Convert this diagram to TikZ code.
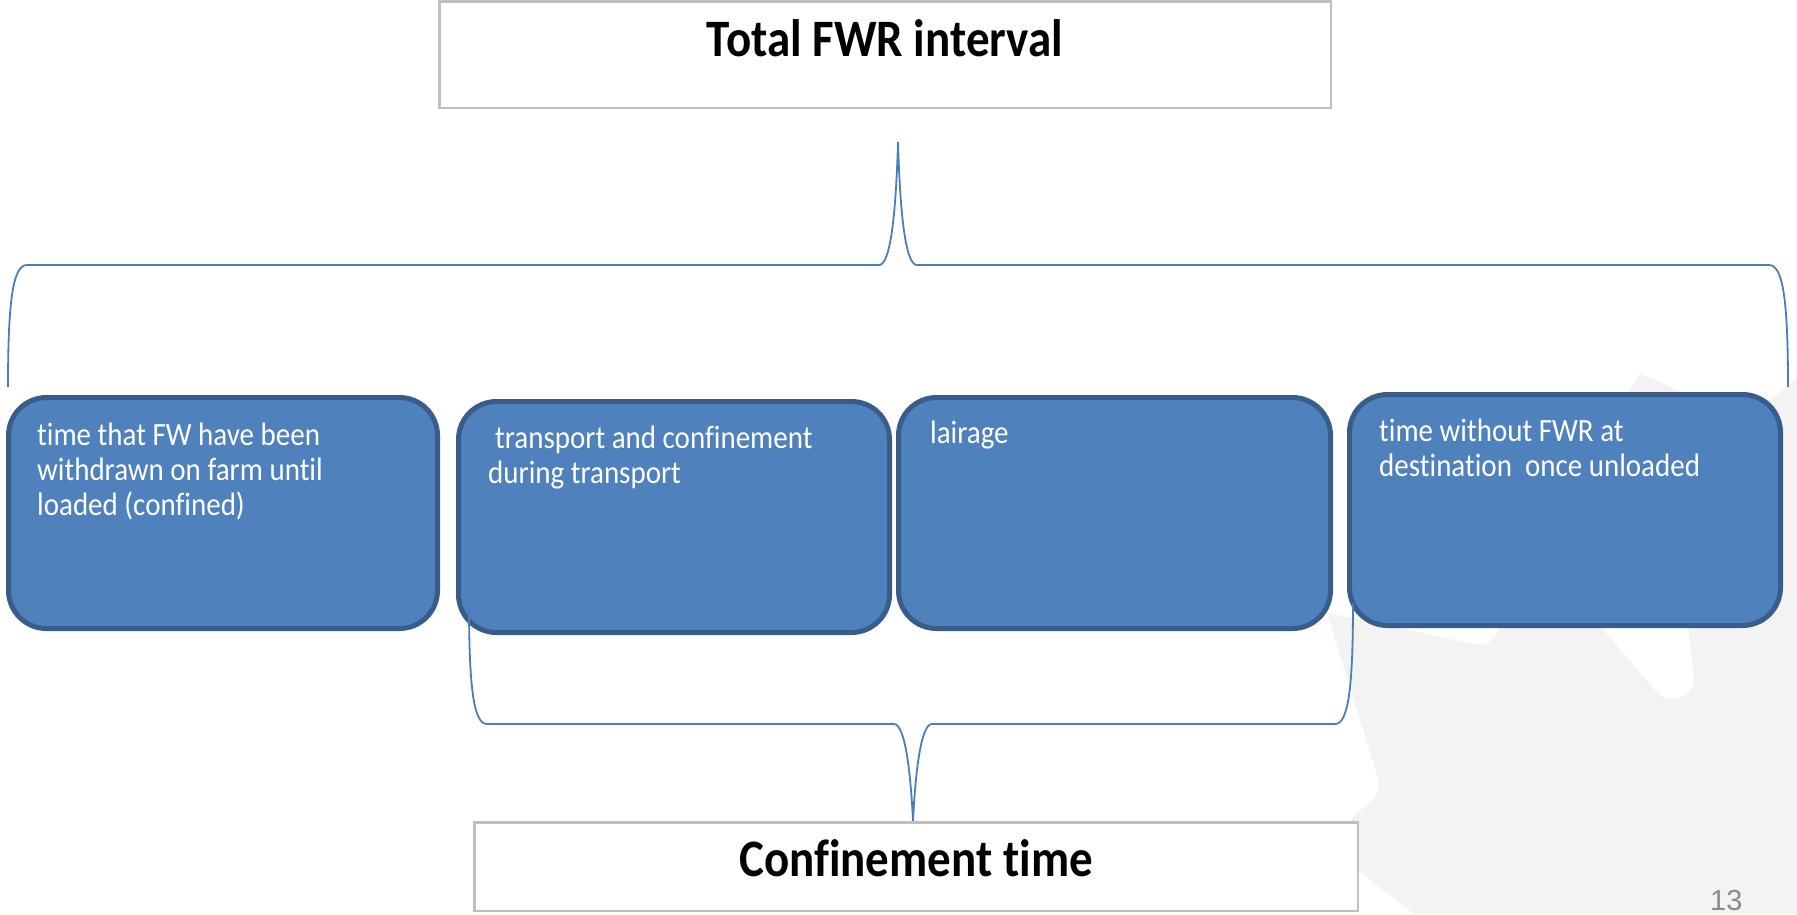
\documentclass[tikz,border=0pt]{standalone}
\usepackage{fontspec}
\setmainfont{Carlito}[Ligatures=NoCommon]
\newfontfamily\numfont{Liberation Sans}
\definecolor{boxfill}{HTML}{4F81BD}
\definecolor{boxline}{HTML}{385D8A}
\definecolor{braceline}{HTML}{4A7EBB}
\definecolor{titleline}{HTML}{BFBFBF}
\definecolor{wmgray}{HTML}{F3F3F3}
\definecolor{pggray}{HTML}{8A8A8A}
\newcommand{\ys}[1]{\scalebox{1}[1.12]{#1}}
\begin{document}
\begin{tikzpicture}[x=1pt,y=-1pt,
  blk/.style={rectangle, rounded corners=38pt, fill=boxfill, draw=boxline, line width=5pt, inner sep=0pt},
  titlebox/.style={rectangle, draw=titleline, line width=2.5pt, fill=white, inner sep=0pt},
  brace/.style={draw=braceline, line width=1.8pt},
  boxtxt/.style={text=white, font=\fontsize{29}{35}\selectfont, align=left, inner sep=0pt, anchor=north west},
  titletxt/.style={font=\fontsize{47}{56}\selectfont\bfseries, inner sep=0pt, anchor=base},
  pgnum/.style={font=\numfont\fontsize{29}{34}\selectfont, text=pggray, inner sep=0pt, anchor=base west}
]
\useasboundingbox (0,0) rectangle (1797,914);
\fill[white] (0,0) rectangle (1797,914);

% watermark
\fill[wmgray] (1327,613) -- (1470,643) .. controls (1488,647) and (1497,640) .. (1500,625)
  -- (1629,392) -- (1640,374) -- (1690,395) -- (1770,400) -- (1797,378) -- (1797,914) -- (1414,914) -- (1345,860) -- (1340,835)
  -- (1356,813) .. controls (1378,800) and (1381,790) .. (1377,775) -- cycle;
\fill[white] (1600,626) -- (1655,690) .. controls (1666,704) and (1690,702) .. (1694,680) -- (1688,626) -- cycle;

% title boxes
\node[titlebox, minimum width=891.5pt, minimum height=106.5pt] (top) at (885,54.5) {};
\node[titlebox, minimum width=883.5pt, minimum height=88.5pt] (bot) at (916,866.5) {};
\node[titletxt] (toptxt) at (885,56) {\ys{Total FWR interval}};
\node[titletxt] (bottxt) at (916,876) {\ys{Confinement time}};

% blue boxes
\node[blk, minimum width=429pt, minimum height=231pt] (b1) at (223,513) {};
\node[blk, minimum width=431pt, minimum height=231pt] (b2) at (674,517) {};
\node[blk, minimum width=432pt, minimum height=231pt] (b3) at (1114.5,513) {};
\node[blk, minimum width=431pt, minimum height=231pt] (b4) at (1565,510) {};

\node[boxtxt] (t1) at (37,420.5) {\strut\ys{time that FW have been}\\\ys{withdrawn on farm until}\\\ys{loaded (confined)}};
\node[boxtxt] (t2) at (488,423.5) {\strut\hspace{7pt}\ys{transport and confinement}\\\ys{during transport}};
\node[boxtxt] (t3) at (930,418.5) {\strut\ys{lairage}};
\node[boxtxt] (t4) at (1379,416.5) {\strut\ys{time without FWR at}\\\ys{destination\ \ once unloaded}};

% top brace
\coordinate (tl) at (8,387);
\coordinate (tr) at (1788,387);
\coordinate (tp) at (898,142);
\draw[brace] (tl) .. controls (8,300) and (13,265) .. (27,265) -- (879,265)
  .. controls (891,265) and (896,210) .. (tp)
  .. controls (900,210) and (905,265) .. (917,265) -- (1769,265)
  .. controls (1783,265) and (1788,300) .. (tr);

% bottom brace
\coordinate (bl) at (469,603);
\coordinate (br) at (1353,603);
\coordinate (bp) at (913,821);
\draw[brace] (bl) .. controls (469,690) and (474,724) .. (487,724) -- (894,724)
  .. controls (906,724) and (911,780) .. (bp)
  .. controls (915,780) and (920,724) .. (932,724) -- (1335,724)
  .. controls (1348,724) and (1353,690) .. (br);

\node[pgnum] (pg) at (1710,910) {13};
\end{tikzpicture}
\end{document}
